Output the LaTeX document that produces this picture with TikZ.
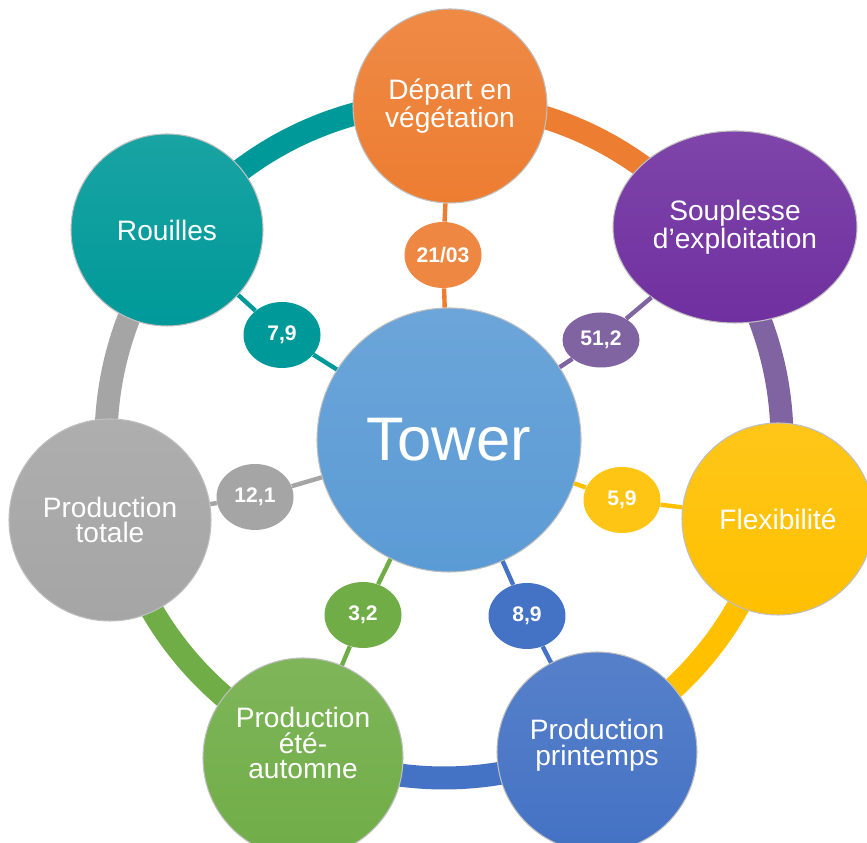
\documentclass[tikz,border=0pt]{standalone}
\usepackage{fontspec}
\setmainfont{Liberation Sans}
\usetikzlibrary{shapes.geometric}

\definecolor{orangeA}{HTML}{ED7D31}
\definecolor{purpleA}{HTML}{7030A0}
\definecolor{purpleB}{HTML}{8064A2}
\definecolor{tealA}{HTML}{009999}
\definecolor{grayA}{HTML}{A5A5A5}
\definecolor{yellowA}{HTML}{FFC000}
\definecolor{blueA}{HTML}{4472C4}
\definecolor{greenA}{HTML}{70AD47}
\definecolor{towerA}{HTML}{5B9BD5}

\tikzset{
  ball/.style={circle,draw=black!25,line width=0.6pt,top color=#1!90!white,bottom color=#1,
    text=white,align=center,inner sep=0pt,font=\fontsize{16}{14.5}\selectfont},
  valbox/.style={ellipse,fill=#1,text=white,inner sep=0pt,minimum width=15.4mm,
    minimum height=13.2mm,font=\bfseries\fontsize{12}{14}\selectfont},
  link/.style={draw=#1,line width=2.5pt},
  ringseg/.style={draw=#1,line width=4.6mm}
}

\begin{document}
\begin{tikzpicture}[x=0.2mm,y=0.2mm]
			\useasboundingbox (0,0) rectangle (867,843);
			% outer ring
			\coordinate (hub) at (444,403);
			\draw[ringseg=tealA] (hub) ++(89:338) arc[start angle=89,end angle=142.8,radius=338];
			\draw[ringseg=orangeA] (hub) ++(36.2:338) arc[start angle=36.2,end angle=89,radius=338];
			\draw[ringseg=purpleB] (hub) ++(-13.3:338) arc[start angle=-13.3,end angle=36.2,radius=338];
			\draw[ringseg=yellowA] (hub) ++(-63.9:338) arc[start angle=-63.9,end angle=-13.3,radius=338];
			\draw[ringseg=blueA] (hub) ++(-113.9:338) arc[start angle=-113.9,end angle=-63.9,radius=338];
			\draw[ringseg=greenA] (hub) ++(193.5:338) arc[start angle=193.5,end angle=246.1,radius=338];
			\draw[ringseg=grayA] (hub) ++(142.8:338) arc[start angle=142.8,end angle=193.5,radius=338];
			
			% criteria
			\node[ball=towerA,minimum size=52.8mm,font=\fontsize{35}{40}\selectfont] (Tower) at (449,403) {Tower};
			\node[ball=orangeA,minimum size=38.8mm] (Depart) at (450,737) {Départ en\\végétation};
			\node[ball=purpleA,ellipse,minimum width=48.8mm,minimum height=38.4mm] (Souplesse) at (735,616) {Souplesse\\d’exploitation};
			\node[ball=yellowA,minimum size=38.4mm] (Flexibilite) at (778,324) {Flexibilité};
			\node[ball=blueA,minimum size=40mm,text depth=11pt] (Printemps) at (597,91) {Production\\printemps};
			\node[ball=greenA,minimum size=40mm,text depth=17pt] (EteAutomne) at (303,85) {Production\\été-\\automne};
			\node[ball=grayA,minimum size=40.4mm] (Totale) at (110,323) {Production\\totale};
			\node[ball=tealA,minimum size=38.4mm] (Rouilles) at (167,613) {Rouilles};
			
			% values
			\node[valbox=orangeA!92!white] (vDepart) at (443,588) {21/03};
			\node[valbox=purpleB,minimum height=11mm] (vSouplesse) at (601,503) {51,2};
			\node[valbox=yellowA!92!white] (vFlexibilite) at (622,343) {5,9};
			\node[valbox=blueA] (vPrintemps) at (527,227) {8,9};
			\node[valbox=greenA] (vEteAutomne) at (363,228) {3,2};
			\node[valbox=grayA] (vTotale) at (255,346) {12,1};
			\node[valbox=tealA] (vRouilles) at (282,508) {7,9};
			
			\draw[link=orangeA] (Depart) to (vDepart);
			\draw[link=orangeA] (vDepart) to (Tower);
			\draw[link=purpleB] (Souplesse) to (vSouplesse);
			\draw[link=purpleB] (vSouplesse) to (Tower);
			\draw[link=yellowA] (Flexibilite) to (vFlexibilite);
			\draw[link=yellowA] (vFlexibilite) to (Tower);
			\draw[link=blueA] (Printemps) to (vPrintemps);
			\draw[link=blueA] (vPrintemps) to (Tower);
			\draw[link=greenA] (EteAutomne) to (vEteAutomne);
			\draw[link=greenA] (vEteAutomne) to (Tower);
			\draw[link=grayA] (Totale) to (vTotale);
			\draw[link=grayA] (vTotale) to (Tower);
			\draw[link=tealA] (Rouilles) to (vRouilles);
			\draw[link=tealA] (vRouilles) to (Tower);
\end{tikzpicture}
\end{document}
